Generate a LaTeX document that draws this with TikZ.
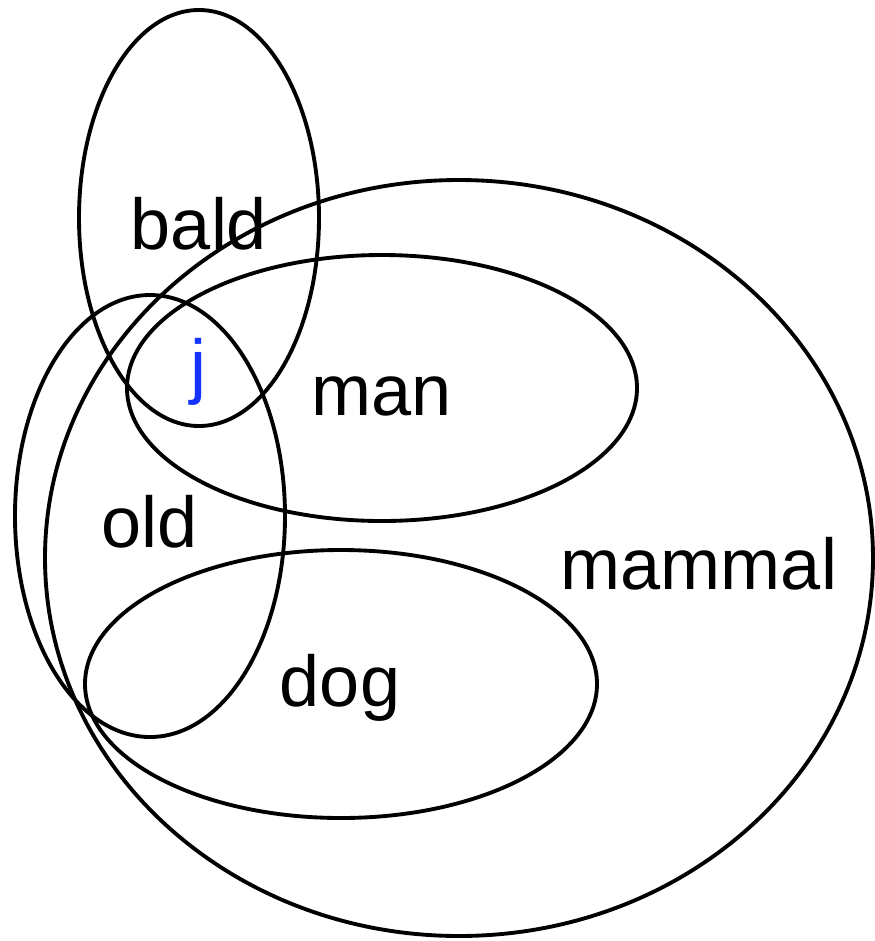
\documentclass[tikz,border=0pt]{standalone}
\usepackage{fontspec}
\setmainfont{Liberation Sans}
\tikzset{
  set/.style={line width=2.2pt},
  setlabel/.style={font=\fontsize{41}{41}\selectfont, inner sep=0pt}
}
\begin{document}
\begin{tikzpicture}[x=0.02cm, y=-0.02cm]
    \useasboundingbox (0,0) rectangle (875,941);
    % Sets
    \draw[set] (459,558) ellipse (414 and 378);  % mammal
    \draw[set] (199,218) ellipse (120 and 208);  % bald
    \draw[set] (382,388) ellipse (255 and 133);  % man
    \draw[set] (150,516) ellipse (135 and 221);  % old
    \draw[set] (341,684) ellipse (256 and 134);  % dog
    % Labels
    \node[setlabel] (bald) at (199,224) {bald};
    \node[setlabel, text={rgb,255:red,20;green,50;blue,255}] (j) at (199,372) {j};
    \node[setlabel] (man) at (382,396) {man};
    \node[setlabel] (old) at (150,522) {old};
    \node[setlabel] (mammal) at (699,564) {mammal};
    \node[setlabel] (dog) at (340,688) {dog};
\end{tikzpicture}
\end{document}
